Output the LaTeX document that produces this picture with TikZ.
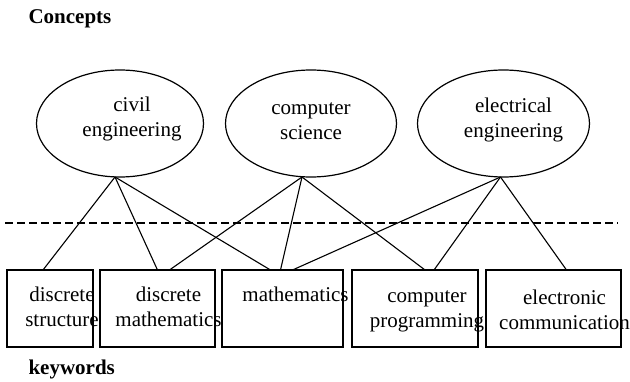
\documentclass[tikz,border=0pt]{standalone}
\usepackage{fontspec}
\setmainfont{Liberation Serif}
\usetikzlibrary{positioning,shapes.geometric}

\begin{document}
\begin{tikzpicture}[x=1pt, y=-1pt,
        every node/.style = {font=\fontsize{21}{25}\selectfont},
        heading/.style = {font=\fontsize{21}{25}\selectfont\bfseries, anchor=base west},
        concept/.style = {draw, ellipse, line width=1.2pt, minimum width=#1, minimum height=107pt, inner sep=0pt, outer sep=0pt},
        kwbox/.style = {draw, line width=1.3pt, minimum width=#1, minimum height=77pt, inner sep=0pt, outer sep=0pt},
        tag/.style = {align=center, anchor=base},
        link/.style = {line width=1.1pt},
        divider/.style = {line width=1.2pt, dash pattern=on 8pt off 4pt}
        ]
        \useasboundingbox (0,0) rectangle (630,382);
        \node[heading] (concepts) at (25,24) {Concepts};
        % concepts
        \node[concept=167pt] (civil) at (120,123.5) {};
        \node[concept=171pt, right=22pt of civil] (cs) {};
        \node[concept=172pt, right=21pt of cs] (elec) {};
        \node[tag] (civil-t) at ([xshift=12pt, yshift=-13.5pt]civil.center) {civil\\engineering};
        \node[tag] (cs-t) at ([xshift=0pt, yshift=-16.5pt]cs.center) {computer\\science};
        \node[tag] (elec-t) at ([xshift=10pt, yshift=-14.5pt]elec.center) {electrical\\engineering};
        % separator
        \coordinate (sepL) at (5,223);
        \coordinate (sepR) at (618,223);
        \draw[divider] (sepL) -- (sepR);
        % keywords
        \node[kwbox=86pt, anchor=north west] (dstruct) at (7,270) {};
        \node[kwbox=115pt, right=7pt of dstruct] (dmath) {};
        \node[kwbox=121pt, right=7pt of dmath] (math) {};
        \node[kwbox=126pt, right=9pt of math] (cprog) {};
        \node[kwbox=135pt, right=8pt of cprog] (ecomm) {};
        \node[tag] (dstruct-t) at ([xshift=12pt, yshift=-57pt]dstruct.north) {discrete\\structure};
        \node[tag] (dmath-t) at ([xshift=11pt, yshift=-57pt]dmath.north) {discrete\\mathematics};
        \node[tag] (math-t) at ([xshift=13pt, yshift=-32pt]math.north) {mathematics};
        \node[tag] (cprog-t) at ([xshift=12pt, yshift=-58pt]cprog.north) {computer\\programming};
        \node[tag] (ecomm-t) at ([xshift=11pt, yshift=-60pt]ecomm.north) {electronic\\communication};
        \node[heading] (keywords) at (25,375) {keywords};
        % links
        \draw[link] ([xshift=-5pt]civil.south) -- ([xshift=-7pt]dstruct.north);
        \draw[link] ([xshift=-5pt]civil.south) -- ([xshift=0pt]dmath.north);
        \draw[link] ([xshift=-5pt]civil.south) -- ([xshift=-12pt]math.north);
        \draw[link] ([xshift=-9pt]cs.south) -- ([xshift=12pt]dmath.north);
        \draw[link] ([xshift=-9pt]cs.south) -- ([xshift=-2pt]math.north);
        \draw[link] ([xshift=-9pt]cs.south) -- ([xshift=10pt]cprog.north);
        \draw[link] ([xshift=-3pt]elec.south) -- ([xshift=10pt]math.north);
        \draw[link] ([xshift=-3pt]elec.south) -- ([xshift=19pt]cprog.north);
        \draw[link] ([xshift=-3pt]elec.south) -- ([xshift=13pt]ecomm.north);
\end{tikzpicture}
\end{document}
